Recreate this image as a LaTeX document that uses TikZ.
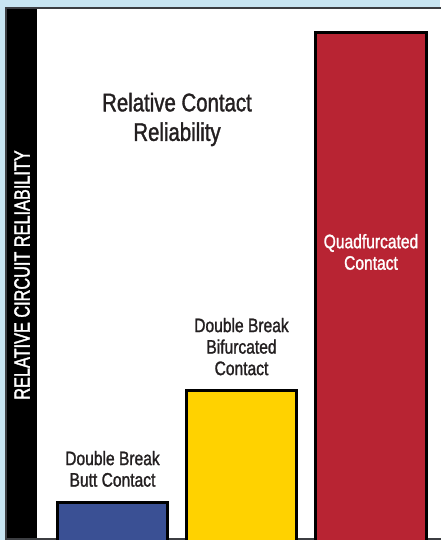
\documentclass[tikz,border=0pt]{standalone}
\usepackage{fontspec}
\usetikzlibrary{positioning}
\newfontfamily\barfont[FakeStretch=0.8,FakeBold=1.3]{Liberation Sans}
\newfontfamily\axisfont[FakeStretch=0.74,FakeBold=1.6]{Liberation Sans}
\definecolor{sky}{RGB}{200,229,242}
\definecolor{ink}{RGB}{35,31,32}
\definecolor{rim}{RGB}{60,62,66}
\definecolor{buttblue}{RGB}{58,80,148}
\definecolor{bifyellow}{RGB}{255,210,0}
\definecolor{quadred}{RGB}{184,36,51}
\tikzstyle{bar}=[draw=black,line width=3pt,anchor=south,inner sep=0pt]
\tikzstyle{lbl}=[align=center,text=ink,inner sep=0pt,font=\barfont\fontsize{19.5}{21.5}\selectfont]
\tikzstyle{heading}=[align=center,text=ink,inner sep=0pt,font=\barfont\fontsize{25.5}{29.5}\selectfont]
\tikzstyle{axis}=[rotate=90,text=white,inner sep=0pt,font=\axisfont\fontsize{22}{24}\selectfont]

\begin{document}
\begin{tikzpicture}[x=1pt,y=1pt]
        \useasboundingbox (0,0) rectangle (440,540);
        \fill[sky] (0,0) rectangle (440,540);
        \filldraw[fill=white,draw=rim,line width=1.5pt] (6,1) rectangle (450,532);
        \fill[black] (6.75,1.75) rectangle (37,531.25);
        \node[axis] (axislbl) at (22,265) {RELATIVE CIRCUIT RELIABILITY}
        ;
        \node[heading] (title) at (177,420.5) {Relative Contact\\Reliability}
        ;
        \node[bar, fill=buttblue, minimum width=110pt, minimum height=39pt] (butt) at (112.5,-3) {}
        ;
        \node[lbl, above=14pt of butt] (buttlbl) {Double Break\\Butt Contact}
        ;
        \node[bar, fill=bifyellow, minimum width=110pt, minimum height=151pt] (bif) at (241.5,-3) {}
        ;
        \node[lbl, above=13.5pt of bif] (biflbl) {Double Break\\Bifurcated\\Contact}
        ;
        \node[bar, fill=quadred, minimum width=111pt, minimum height=509pt] (quad) at (371,-3) {}
        ;
        \node[lbl, text=white] (quadlbl) at (371,288) {Quadfurcated\\Contact}
        ;
    \end{tikzpicture}
\end{document}
